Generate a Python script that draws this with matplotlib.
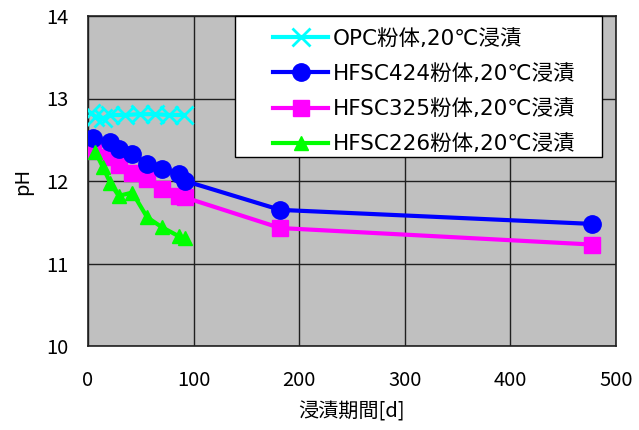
import matplotlib
matplotlib.use("Agg")
import matplotlib.pyplot as plt
from matplotlib.lines import Line2D
from matplotlib.legend_handler import HandlerLine2D
from matplotlib.patches import Rectangle

plt.rcParams['font.family'] = ['Noto Sans CJK JP', 'DejaVu Sans']

# Immersion period [d] and pH for each powder
opc_days = [3, 7, 14, 21, 35, 49, 63, 77, 91]
opc_ph = [12.82, 12.78, 12.76, 12.80, 12.80, 12.81, 12.81, 12.80, 12.80]

hfsc424_days = [5, 21, 29, 42, 56, 70, 86, 92, 182, 477]
hfsc424_ph = [12.52, 12.47, 12.39, 12.33, 12.21, 12.15, 12.09, 12.00, 11.65, 11.48]

hfsc325_days = [5, 21, 29, 42, 56, 70, 86, 92, 182, 477]
hfsc325_ph = [12.36, 12.29, 12.20, 12.10, 12.02, 11.90, 11.82, 11.80, 11.43, 11.23]

hfsc226_days = [7, 14, 21, 29, 42, 56, 70, 86, 92]
hfsc226_ph = [12.35, 12.17, 11.98, 11.82, 11.86, 11.56, 11.44, 11.33, 11.31]

labels = ['OPC粉体,20℃浸漬', 'HFSC424粉体,20℃浸漬',
          'HFSC325粉体,20℃浸漬', 'HFSC226粉体,20℃浸漬']

x_ticks = [0, 100, 200, 300, 400, 500]
y_ticks = [10, 11, 12, 13, 14]

W, H = 639, 430
fig = plt.figure(figsize=(W / 100, H / 100), dpi=100)
ax = fig.add_axes([88 / W, 1 - 346 / H, 528 / W, 330 / H])
ax.set_facecolor('#c0c0c0')

ax.plot(opc_days, opc_ph, color='#00ffff', lw=3, marker='x',
        ms=13, mew=2, label=labels[0], zorder=3)
ax.plot(hfsc424_days, hfsc424_ph, color='#0000ff', lw=3, marker='o',
        ms=12.5, label=labels[1], zorder=4)
ax.plot(hfsc325_days, hfsc325_ph, color='#ff00ff', lw=3, marker='s',
        ms=11, label=labels[2], zorder=3)
ax.plot(hfsc226_days, hfsc226_ph, color='#00ff00', lw=3, marker='^',
        ms=10, label=labels[3], zorder=5)

ax.set_xlim(0, 500)
ax.set_ylim(10, 14)
ax.set_xticks(x_ticks)
ax.set_yticks(y_ticks)
ax.grid(True, color='#202020', lw=1)
ax.set_axisbelow(True)
ax.tick_params(length=0, labelsize=14.5)
ax.tick_params(axis='x', pad=17)
ax.tick_params(axis='y', pad=14.4)
for s in ax.spines.values():
    s.set_color('#202020')
    s.set_linewidth(1.2)

ax.set_xlabel('浸漬期間[d]', fontsize=14.5, labelpad=8)
ax.set_ylabel('pH', fontsize=14.5, labelpad=9)

# legend: white box with handles inset from the left edge
box_x0, box_y0, box_w, box_h = 235, 16, 367, 141
frame = Rectangle((box_x0 / W, 1 - (box_y0 + box_h) / H), box_w / W, box_h / H,
                  transform=fig.transFigure, facecolor='white',
                  edgecolor='black', lw=1.0, zorder=9, clip_on=False)
ax.add_patch(frame)

leg_fs = 15.5
leg = ax.legend(loc='upper left',
                bbox_to_anchor=(box_x0 / W, 1 - box_y0 / H),
                bbox_transform=fig.transFigure, borderaxespad=0,
                prop={'family': ['DejaVu Sans', 'Noto Sans CJK JP'], 'size': leg_fs},
                frameon=False, borderpad=0.6, labelspacing=0.7,
                handlelength=3.73, handletextpad=0.23,
                handler_map={Line2D: HandlerLine2D(xpad=1.17)})
leg.set_zorder(10)

fig.savefig('out.png', dpi=100)
